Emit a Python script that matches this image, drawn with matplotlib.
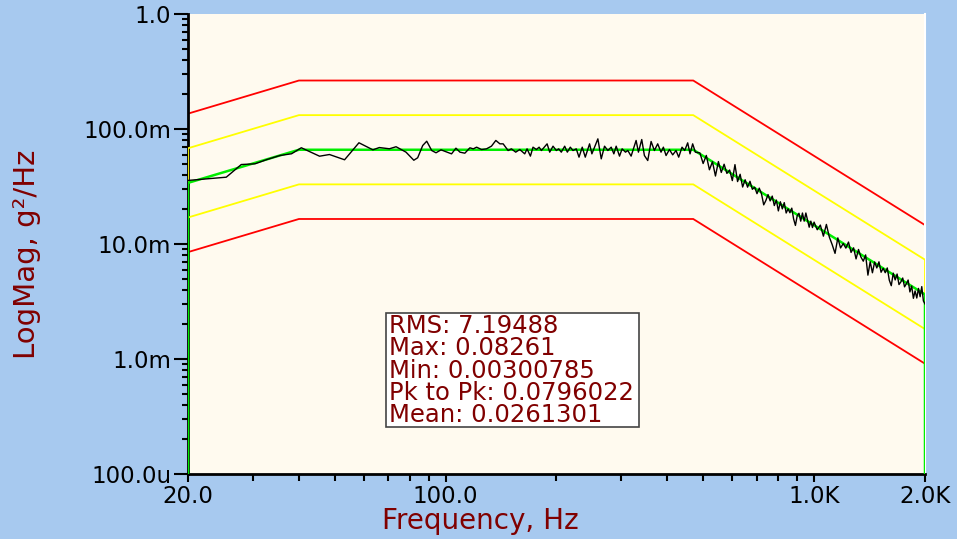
import numpy as np
import matplotlib
matplotlib.use("Agg")
import matplotlib.pyplot as plt
from matplotlib.patches import Rectangle

# test profile breakpoints (Hz) and limit lines, g^2/Hz
prof_freq = [20, 20, 40, 470, 2000, 2000]
ref_psd = [1e-5, 0.034, 0.066, 0.066, 0.00364, 1e-5]
alarm_hi = [1e-5, 0.068, 0.132, 0.132, 0.0073, 1e-5]
alarm_lo = [1e-5, 0.017, 0.033, 0.033, 0.00182, 1e-5]
abort_hi = [1e-5, 0.136, 0.264, 0.264, 0.0146, 1e-5]
abort_lo = [1e-5, 0.0085, 0.0165, 0.0165, 0.00091, 1e-5]

low_freq = [20.0, 25.4, 27.9, 30.4, 32.6, 35.5, 38.2, 40.6, 45.5, 48.4, 53.2, 58.2,
            63.5, 66.1, 70.4, 73.4, 78.1, 82.0, 84.0, 86.7, 88.9, 91.7, 94.2, 97.2]
low_psd = [0.0357, 0.0381, 0.0491, 0.0498, 0.0540, 0.0588, 0.0609, 0.0687, 0.0580, 0.0600,
           0.0540, 0.0759, 0.0659, 0.0690, 0.0673, 0.0701, 0.0629, 0.0535, 0.0562, 0.0719,
           0.0783, 0.0650, 0.0621, 0.0659]

mid_freq = [103.8, 106.7, 109.4, 112.8, 116.4, 118.9, 121.4, 125.2, 129.1, 133.2, 136.9,
            140.4, 143.3, 147.8, 150.9, 155.0, 159.0, 164.0, 166.4, 169.9, 172.7, 176.4,
            179.4, 182.0, 188.6, 191.7, 195.7, 199.8, 202.7, 206.1, 210.5, 214.0, 218.0,
            221.7, 226.3, 230.2, 234.9, 239.4, 245.9, 249.5, 259.0, 264.5, 270.0, 275.7,
            281.5, 286.2, 290.4, 296.5, 301.4, 307.8, 312.3, 318.8, 328.9, 333.7, 340.7,
            346.4, 353.7, 361.2, 368.7, 376.4, 384.3, 390.0, 396.6, 404.9, 413.4, 422.1,
            429.2, 438.2, 445.6, 454.0, 460.7, 468.3, 476.3]
mid_psd = [0.0608, 0.0681, 0.0629, 0.0616, 0.0686, 0.0672, 0.0695, 0.0663, 0.0672, 0.0709,
           0.0795, 0.0743, 0.0743, 0.0650, 0.0672, 0.0629, 0.0663, 0.0608, 0.0672, 0.0581,
           0.0695, 0.0663, 0.0695, 0.0650, 0.0743, 0.0629, 0.0709, 0.0650, 0.0672, 0.0629,
           0.0709, 0.0629, 0.0695, 0.0650, 0.0672, 0.0569, 0.0695, 0.0569, 0.0743, 0.0608,
           0.0821, 0.0550, 0.0709, 0.0650, 0.0695, 0.0608, 0.0709, 0.0581, 0.0672, 0.0629,
           0.0650, 0.0581, 0.0795, 0.0629, 0.0810, 0.0588, 0.0532, 0.0779, 0.0650, 0.0743,
           0.0629, 0.0695, 0.0588, 0.0663, 0.0596, 0.0650, 0.0569, 0.0695, 0.0650, 0.0758,
           0.0608, 0.0743, 0.0629]

high_freq = list(range(490, 1001, 10)) + list(range(1020, 2001, 20))
high_psd = [0.0619, 0.0501, 0.0589, 0.0442, 0.0519, 0.0390, 0.0521, 0.0419, 0.0494,
            0.0411, 0.0440, 0.0356, 0.0490, 0.0349, 0.0404, 0.0313, 0.0362, 0.0312, 0.0351,
            0.0299, 0.0312, 0.0274, 0.0306, 0.0273, 0.0219, 0.0239, 0.0269, 0.0237, 0.0261,
            0.0216, 0.0241, 0.0194, 0.0233, 0.0202, 0.0229, 0.0186, 0.0202, 0.0187, 0.0205,
            0.0165, 0.0145, 0.0176, 0.0185, 0.0158, 0.0186, 0.0158, 0.0186, 0.0161, 0.0140,
            0.0158, 0.0139, 0.0155,
            0.0133, 0.0146, 0.0117, 0.0148, 0.0115, 0.00986, 0.00829, 0.0113, 0.00924, 0.0101,
            0.00921, 0.0104, 0.00845, 0.00926, 0.00742, 0.00896, 0.00771, 0.00709, 0.00804,
            0.00536, 0.00701, 0.00562, 0.00698, 0.00619, 0.00700, 0.00568, 0.00615, 0.00563,
            0.00619, 0.00485, 0.00434, 0.00558, 0.00487, 0.00548, 0.00444, 0.00468, 0.00506,
            0.00424, 0.00451, 0.00486, 0.00383, 0.00431, 0.00337, 0.00391, 0.00339, 0.00411,
            0.00348, 0.00426, 0.00320, 0.00301]

stats = ["RMS: 7.19488", "Max: 0.08261", "Min: 0.00300785",
         "Pk to Pk: 0.0796022", "Mean: 0.0261301"]

y_ticks = [1e-4, 1e-3, 1e-2, 1e-1, 1.0]
y_labels = ["100.0u", "1.0m", "10.0m", "100.0m", "1.0"]
x_ticks = [20, 100, 1000, 2000]
x_labels = ["20.0", "100.0", "1.0K", "2.0K"]

bg = "#A7C9EF"
plot_bg = "#FFFAEF"
dark_red = "#800000"

freq = np.array(low_freq + mid_freq + high_freq, dtype=float)
psd = np.array(low_psd + mid_psd + high_psd)

fig = plt.figure(figsize=(9.57, 5.39), dpi=100, facecolor=bg)
ax = fig.add_axes([188/957, 1-474/539, 737/957, 460/539])
ax.set_facecolor(plot_bg)

ax.plot(prof_freq, abort_hi, color="#FF0000", lw=1.3, zorder=2)
ax.plot(prof_freq, abort_lo, color="#FF0000", lw=1.3, zorder=2)
ax.plot(prof_freq, alarm_hi, color="#FFFF00", lw=1.3, zorder=3)
ax.plot(prof_freq, alarm_lo, color="#FFFF00", lw=1.3, zorder=3)
ax.plot(prof_freq, ref_psd, color="#00EE00", lw=1.8, zorder=4)
ax.plot(freq, psd, color="black", lw=1.0, zorder=5)

ax.set_xscale("log")
ax.set_yscale("log")
ax.set_xlim(20, 2000)
ax.set_ylim(1e-4, 1.0)

ax.set_xticks(x_ticks)
ax.set_xticklabels(x_labels)
ax.set_yticks(y_ticks)
ax.set_yticklabels(y_labels)
ax.xaxis.set_minor_locator(matplotlib.ticker.LogLocator(base=10, subs=np.arange(2, 10)))
ax.yaxis.set_minor_locator(matplotlib.ticker.LogLocator(base=10, subs=np.arange(2, 10)))
ax.xaxis.set_minor_formatter(matplotlib.ticker.NullFormatter())
ax.yaxis.set_minor_formatter(matplotlib.ticker.NullFormatter())
ax.tick_params(axis="y", which="major", length=10, width=1.5, direction="out", pad=2, labelsize=16.5)
ax.tick_params(axis="y", which="minor", length=4, width=1.5, direction="out")
ax.tick_params(axis="x", which="major", length=6, width=1.5, direction="out", pad=2, labelsize=16.5)
ax.tick_params(axis="x", which="minor", length=5, width=1.5, direction="out")

for s in ["left", "bottom"]:
    ax.spines[s].set_linewidth(2)
    ax.spines[s].set_color("black")
ax.spines["top"].set_visible(False)
ax.spines["right"].set_color("white")
ax.spines["right"].set_linewidth(1.5)

fig.text(27/957, 1-254/539, "LogMag, g\u00b2/Hz", rotation=90, color=dark_red,
         fontsize=21, ha="center", va="center")
fig.text(480/957, 1-529/539, "Frequency, Hz", color=dark_red,
         fontsize=20, ha="center", va="baseline")

# statistics box
box = Rectangle((386/957, 1-427/539), 253/957, 114/539, transform=fig.transFigure,
                facecolor="white", edgecolor="#444444", lw=1.2, zorder=10)
fig.add_artist(box)
for i, line in enumerate(stats):
    fig.text(389/957, 1-(326 + i*22.3)/539, line, color=dark_red, fontsize=17.5,
             ha="left", va="center", zorder=11)

fig.savefig("out.png", dpi=100, facecolor=bg)
